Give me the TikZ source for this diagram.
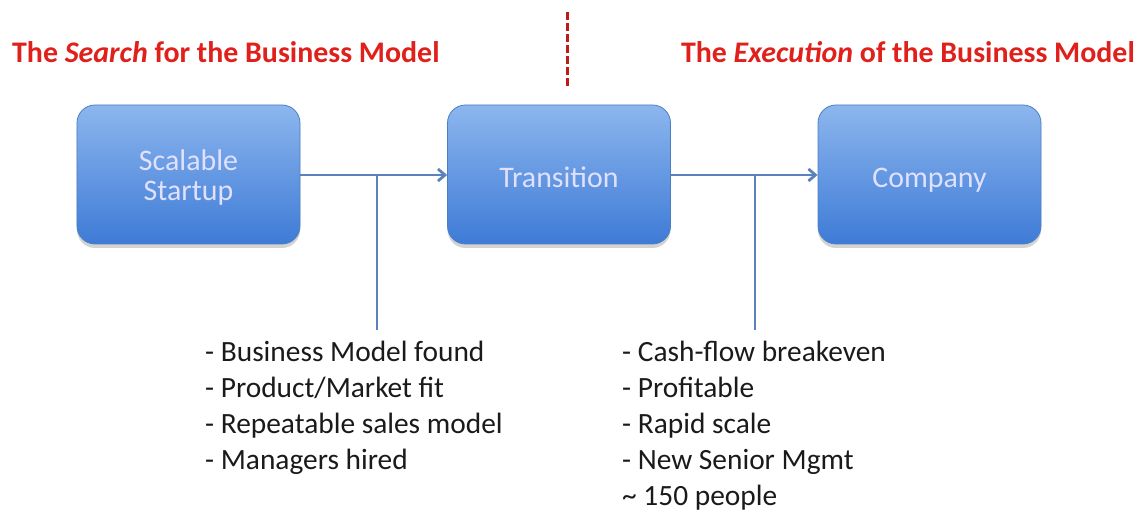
\documentclass[tikz,border=0pt]{standalone}
\usepackage{fontspec}
\setmainfont{Carlito}
\usetikzlibrary{arrows.meta,shadows}
\definecolor{redtitle}{HTML}{E0201B}
\definecolor{boxtop}{HTML}{8CB6EE}
\definecolor{boxbot}{HTML}{3E7BD6}
\definecolor{boxedge}{HTML}{4A7FC4}
\definecolor{linec}{HTML}{5B82BC}
\definecolor{txt}{HTML}{1A1A1A}
\begin{document}
\begin{tikzpicture}[x=1bp,y=-1bp,
  stagebox/.style={draw=boxedge,line width=0.8bp,rounded corners=18bp,
    top color=boxtop,bottom color=boxbot,minimum width=223bp,minimum height=139bp,
    drop shadow={shadow xshift=0bp,shadow yshift=-4bp,opacity=0.35}},
  boxtxt/.style={anchor=base,inner sep=0pt,text=white!88!blue,font=\fontsize{30}{31}\selectfont,align=center},
  conn/.style={draw=linec,line width=2.8bp},
  listtxt/.style={anchor=base west,align=left,text=txt,font=\fontsize{29.5}{36}\selectfont,inner sep=0pt},
  title/.style={text=redtitle,font=\bfseries\fontsize{30}{34}\selectfont,inner sep=0pt}]
\useasboundingbox (0,0) rectangle (1146,510);
\node[stagebox] (s) at (188.5,174.5) {};
\node[stagebox] (t) at (559,174.5) {};
\node[stagebox] (c) at (929.5,174.5) {};
\node[boxtxt] (st) at (188.5,201) {Scalable\\Startup};
\node[boxtxt] (tt) at (559,188) {Transition};
\node[boxtxt] (ct) at (929.5,188) {Company};
\draw[conn,-{Straight Barb[length=7bp,width=12bp]}] (s.east |- 0,175) coordinate (s1) -- (t.west |- 0,175) coordinate (t1);
\draw[conn,-{Straight Barb[length=7bp,width=12bp]}] (t.east |- 0,175) coordinate (t2) -- (c.west |- 0,175) coordinate (c1);
\coordinate (j1) at (377,175);
\coordinate (e1) at (377,330);
\coordinate (j2) at (755,175);
\coordinate (e2) at (755,330);
\draw[conn] (j1) -- (e1);
\draw[conn] (j2) -- (e2);
\coordinate (d1) at (567,12);
\coordinate (d2) at (567,88);
\draw[draw=redtitle!85!black,line width=3bp,dash pattern=on 8bp off 3bp] (d1) -- (d2);
\node[title,anchor=base west] (tl) at (12,63) {The \textit{Search} for the Business Model};
\node[title,anchor=base east] (tr) at (1135,63) {The \textit{Execution} of the Business Model};
\node[listtxt] (l1) at (205,469) {- Business Model found\\- Product/Market fit\\- Repeatable sales model\\- Managers hired};
\node[listtxt] (l2) at (622,505) {- Cash-flow breakeven\\- Profitable\\- Rapid scale\\- New Senior Mgmt\\\textasciitilde{} 150 people};
\end{tikzpicture}
\end{document}
